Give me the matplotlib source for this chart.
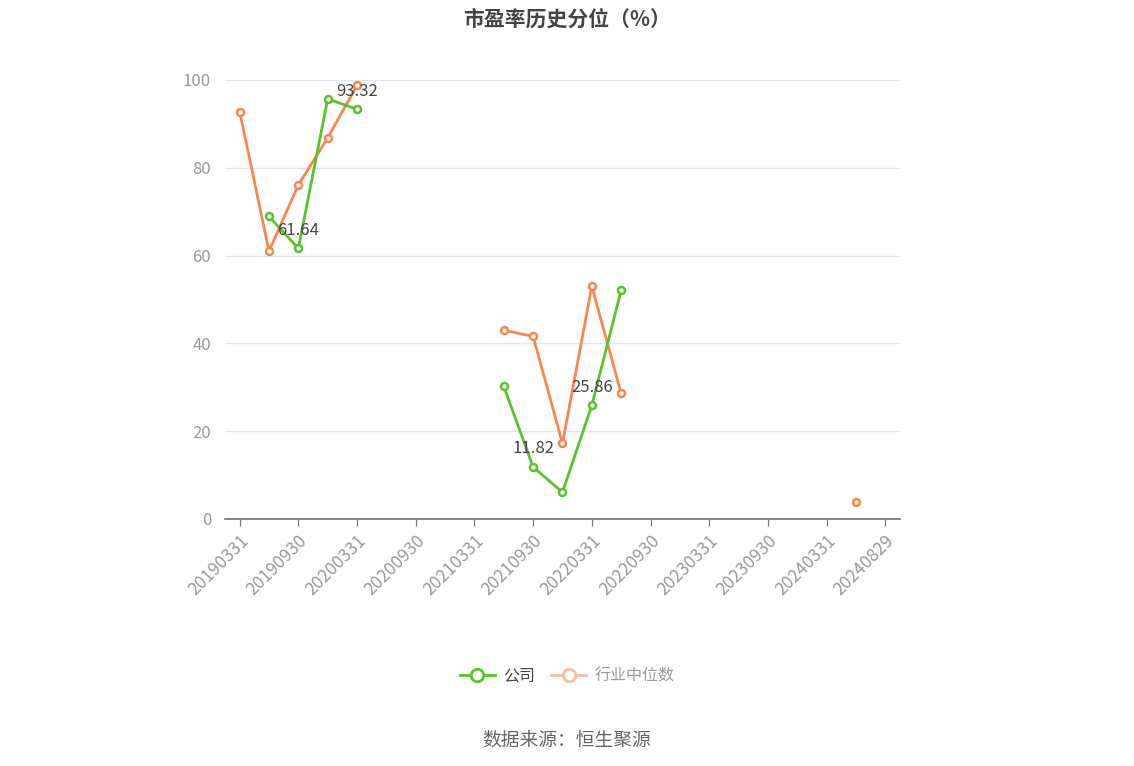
import numpy as np
import matplotlib.pyplot as plt
from matplotlib.lines import Line2D

plt.rcParams['font.family'] = ['Noto Sans CJK SC', 'DejaVu Sans']

dates = ['20190331', '20190630', '20190930', '20191231', '20200331', '20200630',
         '20200930', '20201231', '20210331', '20210630', '20210930', '20211231',
         '20220331', '20220630', '20220930', '20221231', '20230331', '20230630',
         '20230930', '20231231', '20240331', '20240630', '20240829']
nan = np.nan
company = [nan, 68.9, 61.64, 95.7, 93.32, nan, nan, nan, nan, 30.2, 11.82, 6.1,
           25.86, 52.1, nan, nan, nan, nan, nan, nan, nan, nan, nan]
industry = [92.8, 61.0, 76.1, 86.8, 98.8, nan, nan, nan, nan, 43.0, 41.6, 17.2,
            53.0, 28.6, nan, nan, nan, nan, nan, nan, nan, 3.8, nan]
labeled = [2, 4, 10, 12]

green = '#56c42a'
orange = '#f7874f'

fig = plt.figure(figsize=(11.34, 7.66), dpi=100)
ax = fig.add_axes([0.1984, 0.3225, 0.5952, 0.5731])
x = np.arange(len(dates))

ax.plot(x, industry, color=orange, lw=2, marker='o', ms=5, mfc='white', mew=1.8, zorder=3)
ax.plot(x, company, color=green, lw=2, marker='o', ms=5, mfc='white', mew=1.8, zorder=4)

for i in labeled:
    ax.annotate('%.2f' % company[i], (i, company[i]), xytext=(0, 7), textcoords='offset points',
                ha='center', va='bottom', fontsize=12, color='#444444', zorder=5)

ax.set_xlim(-0.5, len(dates) - 0.5)
ax.set_ylim(0, 100)
ax.set_yticks([0, 20, 40, 60, 80, 100])
ax.grid(axis='y', color='#e0e6f1', lw=1)
ax.set_axisbelow(True)
for s in ['top', 'right', 'left']:
    ax.spines[s].set_visible(False)
ax.spines['bottom'].set_color('#6e7079')
ax.spines['bottom'].set_linewidth(1.2)
ax.tick_params(axis='y', length=0, labelsize=12, labelcolor='#999999', pad=10)
ticks = list(range(0, len(dates), 2)) + [len(dates) - 1]
ticks = sorted(set(ticks) - {len(dates) - 2})
ax.set_xticks(ticks)
ax.set_xticklabels([dates[i] for i in ticks], rotation=45, ha='right', rotation_mode='anchor')
ax.tick_params(axis='x', length=5, color='#6e7079', labelsize=12.5, labelcolor='#999999', pad=4)

fig.text(0.5, 0.975, '市盈率历史分位（%）', ha='center', va='center', fontsize=15,
         fontweight='bold', color='#444444')

handles = [Line2D([0], [0], color=green, lw=2, marker='o', ms=9, mfc='white', mew=2),
           Line2D([0], [0], color='#fbbfa1', lw=2, marker='o', ms=9, mfc='white', mew=2)]
leg = fig.legend(handles, ['公司', '行业中位数'], loc='center', bbox_to_anchor=(0.5, 0.117),
                 ncol=2, frameon=False, fontsize=11.5, handlelength=2.2, columnspacing=1.0,
                 handletextpad=0.5)
leg.get_texts()[0].set_color('#444444')
leg.get_texts()[1].set_color('#999999')

fig.text(0.5, 0.034, '数据来源：恒生聚源', ha='center', va='center', fontsize=13.5, color='#666666')

fig.savefig('out.png', dpi=100)
